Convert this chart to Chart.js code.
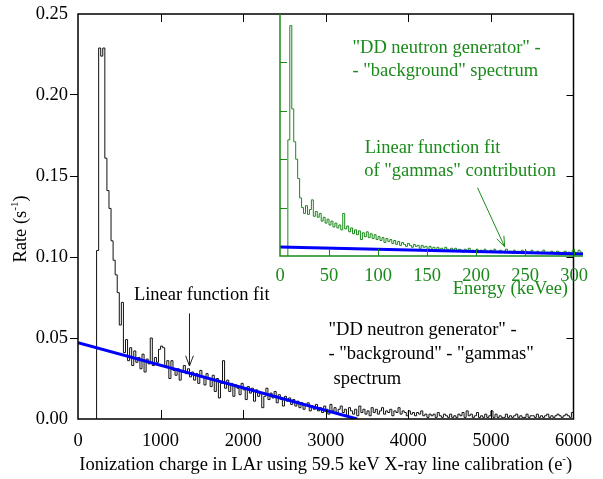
<!DOCTYPE html>
<html>
<head>
<meta charset="utf-8">
<script src="https://cdn.jsdelivr.net/npm/chart.js@4.4.1/dist/chart.umd.min.js"></script>
<style>
  html, body { margin: 0; padding: 0; background: #fff; }
  #wrap { position: relative; width: 603px; height: 479px; }
  #wrap canvas { position: absolute; left: 0; top: 0; }
</style>
</head>
<body>
<div id="wrap">
  <canvas id="main" width="603" height="479"></canvas>
  <canvas id="inset" width="603" height="479"></canvas>
</div>
<script>
// main spectrum: rate per 25 e- bin, first bin starts at 225 e-
var chargeBinStart = 225;
var chargeBinWidth = 25;
var chargeRate = [
  0.104, 0.229, 0.224, 0.229, 0.161, 0.141, 0.130, 0.110, 0.098, 0.089,
  0.078, 0.058, 0.072, 0.041, 0.049, 0.036, 0.044, 0.033, 0.042, 0.035,
  0.038, 0.031, 0.040, 0.029, 0.037, 0.034, 0.050, 0.033, 0.038, 0.035,
  0.043, 0.045, 0.044, 0.033, 0.036, 0.025, 0.036, 0.030, 0.027, 0.031,
  0.024, 0.029, 0.033, 0.028, 0.031, 0.026, 0.029, 0.024, 0.028, 0.022,
  0.030, 0.026, 0.021, 0.028, 0.025, 0.020, 0.027, 0.017, 0.025, 0.013,
  0.022, 0.036, 0.019, 0.024, 0.017, 0.022, 0.014, 0.021, 0.019, 0.015,
  0.022, 0.018, 0.012, 0.020, 0.016, 0.019, 0.011, 0.018, 0.014, 0.016,
  0.007, 0.014, 0.019, 0.012, 0.016, 0.013, 0.017, 0.010, 0.015, 0.012,
  0.008, 0.014, 0.011, 0.013, 0.009, 0.012, 0.008, 0.011, 0.007, 0.010,
  0.006, 0.009, 0.010, 0.005, 0.008, 0.006, 0.009, 0.005, 0.007, 0.004,
  0.008, 0.006, 0.003, 0.009, 0.005, 0.007, 0.003, 0.006, 0.008, 0.004,
  0.006, 0.002, 0.007, 0.005, 0.003, 0.006, 0.002, 0.008, 0.004, 0.006,
  0.003, 0.005, 0.002, 0.007, 0.004, 0.006, 0.003, 0.005, 0.007, 0.003,
  0.005, 0.004, 0.006, 0.002, 0.005, 0.004, 0.007, 0.003, 0.005, 0.004,
  0.002, 0.005, 0.003, 0.004, 0.002, 0.004, 0.003, 0.005, 0.002, 0.003,
  0.001, 0.003, 0.002, 0.003, 0.001, 0.004, 0.002, 0.001, 0.003, 0.002,
  0.001, 0.003, 0.001, 0.002, 0.001, 0.003, 0.002, 0.004, 0.001, 0.005,
  0.002, 0.003, 0.001, 0.002, 0.004, 0.001, 0.002, 0.001, 0.003, 0.001,
  0.002, 0.005, 0.001, 0.003, 0.001, 0.002, 0.001, 0.001, 0.003, 0.001,
  0.002, 0.001, 0.002, 0.003, 0.001, 0.002, 0.001, 0.001, 0.003, 0.001,
  0.002, 0.002, 0.001, 0.003, 0.001, 0.002, 0.001, 0.002, 0.003, 0.001,
  0.002, 0.001, 0.002, 0.003, 0.002, 0.001, 0.002, 0.003, 0.002, 0.001,
  0.004
];
var fitCharge = [0, 3380];
var fitRate = [0.0471, 0];

// inset spectrum: 2 keVee bins, first bin starts at 8 keVee
var energyBinStart = 8;
var energyBinWidth = 2;
var energyRate = [
  0.120, 0.238, 0.152, 0.118, 0.100, 0.080, 0.060, 0.050, 0.044, 0.052,
  0.043, 0.048, 0.058, 0.041, 0.046, 0.040, 0.044, 0.036, 0.040, 0.034,
  0.038, 0.032, 0.036, 0.030, 0.034, 0.029, 0.032, 0.027, 0.044, 0.028,
  0.031, 0.025, 0.029, 0.023, 0.027, 0.022, 0.026, 0.017, 0.024, 0.020,
  0.025, 0.019, 0.023, 0.018, 0.022, 0.017, 0.020, 0.016, 0.019, 0.014,
  0.018, 0.015, 0.017, 0.013, 0.016, 0.012, 0.015, 0.011, 0.014, 0.012,
  0.010, 0.013, 0.011, 0.009, 0.012, 0.010, 0.011, 0.008, 0.011, 0.009,
  0.010, 0.007, 0.010, 0.008, 0.009, 0.006, 0.009, 0.007, 0.008, 0.006,
  0.009, 0.007, 0.005, 0.008, 0.006, 0.008, 0.005, 0.007, 0.006, 0.004,
  0.007, 0.005, 0.008, 0.005, 0.006, 0.004, 0.007, 0.005, 0.006, 0.004,
  0.007, 0.005, 0.004, 0.006, 0.005, 0.007, 0.004, 0.005, 0.006, 0.004,
  0.005, 0.007, 0.004, 0.005, 0.003, 0.006, 0.004, 0.005, 0.003, 0.006,
  0.004, 0.005, 0.003, 0.004, 0.006, 0.003, 0.004, 0.005, 0.003, 0.004,
  0.006, 0.003, 0.004, 0.003, 0.005, 0.004, 0.003, 0.005, 0.004, 0.003,
  0.004, 0.005, 0.003, 0.004, 0.003, 0.006, 0.004, 0.003, 0.006, 0.004,
  0.003
];
var fitEnergy = [0, 310];
var fitEnergyRate = [0.0092, 0.0020];

var FONT = '"Liberation Serif", "Times New Roman", serif';
var FSIZE = 18.5;
var GREEN = '#1a8a1a';
var BLUE = '#0000ff';

Chart.defaults.font.family = FONT;
Chart.defaults.font.size = FSIZE;

// histogram as a step line: left bin edges + closing right edge
var histPoints = function (start, width, vals) {
  var pts = [{x: start, y: 0}];
  vals.forEach(function (v, i) { pts.push({x: start + i * width, y: v}); });
  pts.push({x: start + vals.length * width, y: vals[vals.length - 1]});
  return pts;
};
var pairPoints = function (xs, ys) {
  return xs.map(function (x, i) { return {x: x, y: ys[i]}; });
};
var plainNum = function (v) { return String(v); };

// text with superscript pieces, e.g. (s^-1)
var drawRich = function (ctx, parts, x, y, align) {
  var big = FSIZE + 'px ' + FONT, small = Math.round(FSIZE * 0.62) + 'px ' + FONT;
  var widths = parts.map(function (p) {
    ctx.font = p.sup ? small : big;
    return ctx.measureText(p.t).width;
  });
  var total = widths.reduce(function (a, b) { return a + b; }, 0);
  var cx = align === 'center' ? x - total / 2 : (align === 'right' ? x - total : x);
  ctx.textAlign = 'left';
  ctx.textBaseline = 'alphabetic';
  parts.forEach(function (p, i) {
    ctx.font = p.sup ? small : big;
    ctx.fillText(p.t, cx, p.sup ? y - FSIZE * 0.42 : y);
    cx += widths[i];
  });
};

var drawArrow = function (ctx, x0, y0, x1, y1) {
  var ang = Math.atan2(y1 - y0, x1 - x0), len = 11, spread = 0.36;
  ctx.beginPath();
  ctx.moveTo(x0, y0); ctx.lineTo(x1, y1);
  ctx.moveTo(x1 - len * Math.cos(ang - spread), y1 - len * Math.sin(ang - spread));
  ctx.lineTo(x1, y1);
  ctx.lineTo(x1 - len * Math.cos(ang + spread), y1 - len * Math.sin(ang + spread));
  ctx.stroke();
};

var textAt = function (ctx, sx, sy, str, xv, yv) {
  ctx.fillText(str, sx.getPixelForValue(xv), sy.getPixelForValue(yv));
};

// ── main plot frame, inward ticks, labels ─────────────────────────
var mainDecor = {
  id: 'mainDecor',
  afterDraw: function (chart) {
    var ctx = chart.ctx, a = chart.chartArea, x = chart.scales.x, y = chart.scales.y;
    ctx.save();
    ctx.strokeStyle = '#000';
    ctx.lineWidth = 1.5;
    ctx.strokeRect(a.left, a.top, a.right - a.left, a.bottom - a.top);
    ctx.lineWidth = 1;
    ctx.beginPath();
    x.ticks.forEach(function (t) {
      if (t.value <= x.min || t.value >= x.max) return;
      var px = Math.round(x.getPixelForValue(t.value)) + 0.5;
      ctx.moveTo(px, a.bottom); ctx.lineTo(px, a.bottom - 9);
      ctx.moveTo(px, a.top); ctx.lineTo(px, a.top + 8);
    });
    y.ticks.forEach(function (t) {
      if (t.value <= y.min || t.value >= y.max - 1e-9) return;
      var py = Math.round(y.getPixelForValue(t.value)) + 0.5;
      ctx.moveTo(a.right, py); ctx.lineTo(a.right - 7, py);
    });
    ctx.stroke();

    ctx.fillStyle = '#000';
    ctx.font = FSIZE + 'px ' + FONT;
    ctx.textAlign = 'left';
    ctx.textBaseline = 'alphabetic';
    textAt(ctx, x, y, 'Linear function fit', 677, 0.0735);
    textAt(ctx, x, y, '"DD neutron generator" -', 3033, 0.0519);
    textAt(ctx, x, y, '- "background" - "gammas"', 3033, 0.0369);
    textAt(ctx, x, y, 'spectrum', 3093, 0.0216);
    ctx.strokeStyle = '#222';
    drawArrow(ctx, x.getPixelForValue(1350), y.getPixelForValue(0.0652),
              x.getPixelForValue(1350), y.getPixelForValue(0.0327));

    drawRich(ctx, [{t: 'Ionization charge in LAr using 59.5 keV X-ray line calibration (e'},
                   {t: '-', sup: true}, {t: ')'}], (a.left + a.right) / 2, a.bottom + 51, 'center');
    ctx.translate(25.5, 229);
    ctx.rotate(-Math.PI / 2);
    drawRich(ctx, [{t: 'Rate (s'}, {t: '-1', sup: true}, {t: ')'}], 0, 0, 'center');
    ctx.restore();
  }
};

new Chart(document.getElementById('main'), {
  type: 'line',
  data: {
    datasets: [
      {data: pairPoints(fitCharge, fitRate), borderColor: BLUE, borderWidth: 3, pointRadius: 0},
      {data: histPoints(chargeBinStart, chargeBinWidth, chargeRate), stepped: 'before',
       borderColor: '#111', borderWidth: 1, pointRadius: 0}
    ]
  },
  options: {
    responsive: false, animation: false, devicePixelRatio: 1,
    layout: {padding: {top: 14, right: 20, left: 0, bottom: 0}},
    plugins: {legend: {display: false}, tooltip: {enabled: false}},
    scales: {
      x: {
        type: 'linear', min: 0, max: 6000,
        afterFit: function (s) { s.height = 60; },
        ticks: {stepSize: 1000, color: '#000', padding: 11, maxRotation: 0, autoSkip: false,
                callback: plainNum},
        grid: {display: false, drawTicks: false}, border: {display: false}
      },
      y: {
        type: 'linear', min: 0, max: 0.25,
        afterFit: function (s) { s.width = 78; },
        ticks: {stepSize: 0.05, color: '#000', padding: 2,
                callback: function (v) { return v.toFixed(2); }},
        grid: {drawOnChartArea: false, tickLength: 8, lineWidth: 1,
               color: function (c) {
                 return c.tick && c.tick.value > 0.001 && c.tick.value < 0.249 ? '#000' : 'rgba(0,0,0,0)';
               }},
        border: {display: false}
      }
    }
  },
  plugins: [mainDecor]
});

// ── inset: green axes, ticks, labels ─────────────────────────────
var insetDecor = {
  id: 'insetDecor',
  afterDraw: function (chart) {
    var ctx = chart.ctx, a = chart.chartArea, x = chart.scales.x, y = chart.scales.y;
    ctx.save();
    ctx.strokeStyle = GREEN;
    ctx.lineWidth = 1.5;
    ctx.beginPath();
    ctx.moveTo(a.left, a.top); ctx.lineTo(a.left, a.bottom); ctx.lineTo(a.right, a.bottom);
    ctx.stroke();
    ctx.lineWidth = 1;
    ctx.beginPath();
    x.ticks.forEach(function (t) {
      if (t.value <= x.min) return;
      var px = Math.round(x.getPixelForValue(t.value)) + 0.5;
      ctx.moveTo(px, a.bottom); ctx.lineTo(px, a.bottom - 7);
    });
    y.ticks.forEach(function (t) {
      if (t.value <= y.min || t.value >= y.max - 1e-9) return;
      var py = Math.round(y.getPixelForValue(t.value)) + 0.5;
      ctx.moveTo(a.left, py); ctx.lineTo(a.left + 7, py);
    });
    ctx.stroke();

    ctx.fillStyle = GREEN;
    ctx.font = FSIZE + 'px ' + FONT;
    ctx.textAlign = 'left';
    ctx.textBaseline = 'alphabetic';
    textAt(ctx, x, y, '"DD neutron generator" -', 73.9, 0.2094);
    textAt(ctx, x, y, '- "background" spectrum', 73.9, 0.186);
    textAt(ctx, x, y, 'Linear function fit', 86.5, 0.1061);
    textAt(ctx, x, y, 'of "gammas" contribution', 85.8, 0.0826);
    drawArrow(ctx, x.getPixelForValue(201.4), y.getPixelForValue(0.0706),
              x.getPixelForValue(229.1), y.getPixelForValue(0.0096));
    ctx.textAlign = 'right';
    ctx.fillText('Energy (keVee)', a.right - 15, a.bottom + 38);
    ctx.restore();
  }
};

new Chart(document.getElementById('inset'), {
  type: 'line',
  data: {
    datasets: [
      {data: pairPoints(fitEnergy, fitEnergyRate), borderColor: BLUE, borderWidth: 3, pointRadius: 0},
      {data: histPoints(energyBinStart, energyBinWidth, energyRate), stepped: 'before',
       borderColor: GREEN, borderWidth: 1, pointRadius: 0}
    ]
  },
  options: {
    responsive: false, animation: false, devicePixelRatio: 1,
    layout: {padding: {top: 14, right: 20, left: 0, bottom: 0}},
    plugins: {legend: {display: false}, tooltip: {enabled: false}},
    scales: {
      x: {
        type: 'linear', min: 0, max: 309,
        afterFit: function (s) { s.height = 223; },
        ticks: {stepSize: 50, includeBounds: false, color: GREEN, padding: 9,
                maxRotation: 0, autoSkip: false, callback: plainNum},
        grid: {display: false, drawTicks: false}, border: {display: false}
      },
      y: {
        type: 'linear', min: 0, max: 0.25,
        afterFit: function (s) { s.width = 280; },
        ticks: {stepSize: 0.05, display: false},
        grid: {display: false, drawTicks: false}, border: {display: false}
      }
    }
  },
  plugins: [insetDecor]
});
</script>
</body>
</html>
